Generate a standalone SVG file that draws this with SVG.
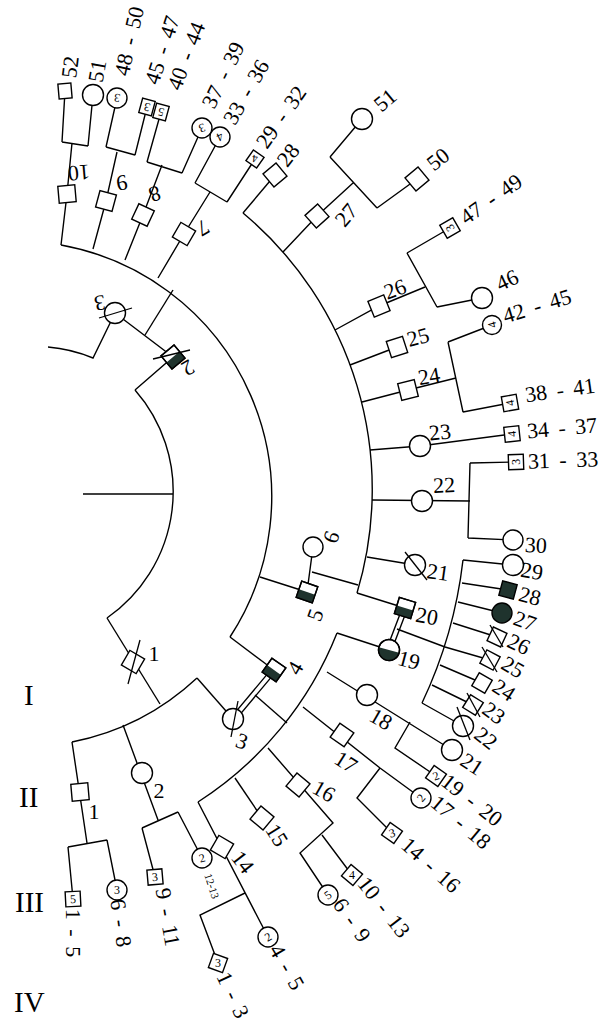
<svg xmlns="http://www.w3.org/2000/svg" xmlns:xlink="http://www.w3.org/1999/xlink" width="612" height="1023" viewBox="0 0 612 1023">
<style>
.c{fill:none;stroke:#000;stroke-width:1.4}
.n{fill:#fff;stroke:#000;stroke-width:1.4}
.d{fill:#1f332d;stroke:none}
.k{fill:#1f332d;stroke:#000;stroke-width:1.4}
.sl{stroke:#000;stroke-width:1.3}
.t{font-family:"Liberation Serif","Times New Roman",serif;font-size:22px;fill:#000;text-anchor:middle;dominant-baseline:central;word-spacing:4px}
.s{font-size:12px}
.x{font-size:11px}
.g{font-family:"Liberation Serif","Times New Roman",serif;font-size:29px;fill:#000}
</style>
<defs>
<rect id="sq" x="-8.5" y="-8.5" width="17" height="17"/>
<rect id="sqs" x="-7.5" y="-7.5" width="15" height="15"/>
<circle id="ci" r="10.5"/>
<circle id="cis" r="10"/>
</defs>
<rect width="612" height="1023" fill="#fff"/>
<g id="connectors" class="c">
<path d="M83,494H173"/>
<path d="M135,390A154,154 0 0 1 107,618"/>
<path d="M135,390L173,357L115,313"/>
<path d="M145,335L173,290"/>
<path d="M48,347A150,150 0 0 1 93,358L115,313"/>
<path d="M61,245A256,256 0 0 1 230,637"/>
<path d="M61,245L67,194L72,143M62,142L88,146M62,142L65,91M88,146L93,95"/>
<path d="M93,249L106,201L117,152M106,147L135,155M106,147L117,98M135,155L147,107"/>
<path d="M125,260L143,215L162,165M147,162L182,173M147,162L161,112M182,173L202,128"/>
<path d="M158,278L184,234L210,192M195,183L227,202M195,183L220,137M227,202L255,159"/>
<path d="M230,637L274,670"/>
<path d="M260,577L307,592L313,547M312,572L358,585"/>
<path d="M243,213A360,360 0 0 1 357,593"/>
<path d="M243,213L275,175"/>
<path d="M283,252L317,216L353,183M330,157L377,208M330,157L362,119M377,208L417,179"/>
<path d="M335,330L379,306L425,287M407,253L437,307M407,253L450,228M437,307L482,298"/>
<path d="M350,365L397,347"/>
<path d="M362,402L408,390L456,378M448,342L463,412M448,342L492,325M463,412L510,403"/>
<path d="M370,450L420,446L512,434"/>
<path d="M372,500L470,501M470,463L468,538M470,463L516,462M468,538L513,540"/>
<path d="M367,557L415,565"/>
<path d="M357,593L405,608"/>
<path d="M391.3,650.9L407.3,608.9M386.7,649.1L402.7,607.1"/>
<path d="M397,629L445,647"/>
<path d="M337,633L389,650"/>
<path d="M463,560A455,455 0 0 1 422,703"/>
<path d="M463,560L513,565M462,583L508,590M458,602L502,613M453,623L497,637M445,647L490,660M440,665L482,683M432,685L473,705M422,703L463,726"/>
<path d="M197,678A256,256 0 0 1 72,742"/>
<path d="M107,618L160,704"/>
<path d="M197,678L233,719"/>
<path d="M234.9,720.6L275.9,671.6M231.1,717.4L272.1,668.4"/>
<path d="M255,695L287,723"/>
<path d="M337,633A357,357 0 0 1 198,802"/>
<path d="M327,672L452,750M410,722L395,748L436,776"/>
<path d="M303,707L380,768L421,798M380,768L357,798L392,833"/>
<path d="M268,748L333,823L300,853L328,895M322,835L352,875"/>
<path d="M235,778L262,818"/>
<path d="M198,802L268,937M245,893L200,915L218,963"/>
<path d="M72,742L87,843M68,847L107,840M68,847L73,899M107,840L117,890"/>
<path d="M123,725L158,820M142,828L178,812M142,828L155,877M178,812L202,858"/>
</g>
<g id="generations">
<text class="g" x="24" y="705">I</text>
<text class="g" x="19" y="807">II</text>
<text class="g" x="15" y="912">III</text>
<text class="g" x="14" y="1012">IV</text>
</g>
<g id="root-couple">
<g id="n-I-2"><g transform="translate(173,357) rotate(-40)"><use href="#sq" class="n"/><rect class="d" x="-8.5" y="0" width="17" height="8.5"/><use href="#sq" class="c"/></g><line class="sl" x1="153" y1="359" x2="190" y2="350"/><text class="t" transform="translate(188,368) rotate(150)">2</text></g>
<g id="n-I-3u"><use href="#ci" class="n" transform="translate(115,313)"/><line class="sl" x1="99" y1="318" x2="132" y2="308"/><text class="t" transform="translate(100,303) rotate(170)">3</text></g>
<g id="n-I-1"><use href="#sq" class="n" transform="translate(133,662) rotate(30)"/><line class="sl" x1="140" y1="640" x2="128" y2="684"/><text class="t" x="154" y="653">1</text></g>
<g id="n-I-3"><use href="#ci" class="n" transform="translate(233,719)"/><line class="sl" x1="238" y1="701" x2="231" y2="737"/><text class="t" transform="translate(242,741) rotate(20)">3</text></g>
<g id="n-I-4"><g transform="translate(274,670) rotate(35)"><use href="#sq" class="n"/><rect class="d" x="-8.5" y="0" width="17" height="8.5"/><use href="#sq" class="c"/></g><text class="t" transform="translate(295,668) rotate(-60)">4</text></g>
<g id="n-I-5"><g transform="translate(307,592) rotate(19)"><use href="#sq" class="n"/><rect class="d" x="-8.5" y="0" width="17" height="8.5"/><use href="#sq" class="c"/></g><text class="t" transform="translate(315,615) rotate(-70)">5</text></g>
<g id="n-I-6"><use href="#cis" class="n" transform="translate(313,547)"/><text class="t" transform="translate(331,537) rotate(-70)">6</text></g>
</g>
<g id="upper-left">
<g id="n-10"><use href="#sq" class="n" transform="translate(67,194) rotate(-5)"/><text class="t" transform="translate(79,173) rotate(175)">10</text></g>
<g id="n-9"><use href="#sq" class="n" transform="translate(106,201) rotate(15)"/><text class="t" transform="translate(122,183) rotate(170)">9</text></g>
<g id="n-8"><use href="#sq" class="n" transform="translate(143,215) rotate(25)"/><text class="t" transform="translate(155,194) rotate(160)">8</text></g>
<g id="n-7"><use href="#sq" class="n" transform="translate(184,234) rotate(30)"/><text class="t" transform="translate(203,228) rotate(150)">7</text></g>
<g id="n-52"><rect class="n" x="-6.5" y="-7.5" width="13" height="15" transform="translate(65,91) rotate(-5)"/><text class="t" transform="translate(70,67) rotate(-83)">52</text></g>
<g id="n-51a"><use href="#ci" class="n" transform="translate(93,95)"/><text class="t" transform="translate(97,71) rotate(-80)">51</text></g>
<g id="n-48-50"><use href="#cis" class="n" transform="translate(117,98)"/><text class="t s" transform="translate(117,98) rotate(190)">3</text><text class="t" transform="translate(129,41) rotate(-77)">48 - 50</text></g>
<g id="n-45-47"><g transform="translate(147,107) rotate(15)"><rect class="n" x="-6.5" y="-7.5" width="13" height="15"/><text class="t s" transform="rotate(180)">3</text></g><text class="t" transform="translate(162,50) rotate(-72)">45 - 47</text></g>
<g id="n-40-44"><g transform="translate(161,112) rotate(15)"><rect class="n" x="-6.5" y="-7.5" width="13" height="15"/><text class="t s" transform="rotate(180)">5</text></g><text class="t" transform="translate(186,56) rotate(-69)">40 - 44</text></g>
<g id="n-37-39"><use href="#cis" class="n" transform="translate(202,128)"/><text class="t s" transform="translate(202,128) rotate(160)">3</text><text class="t" transform="translate(223,75) rotate(-64)">37 - 39</text></g>
<g id="n-33-36"><use href="#cis" class="n" transform="translate(220,137)"/><text class="t s" transform="translate(220,137) rotate(155)">4</text><text class="t" transform="translate(246,92) rotate(-60)">33 - 36</text></g>
<g id="n-29-32"><g transform="translate(255,159) rotate(35)"><rect class="n" x="-6.5" y="-6.5" width="13" height="13"/><text class="t x" transform="rotate(150)">4</text></g><text class="t" transform="translate(281,117) rotate(-55)">29 - 32</text></g>
</g>
<g id="upper-right">
<g id="n-28"><use href="#sq" class="n" transform="translate(275,175) rotate(-40)"/><text class="t" transform="translate(288,155) rotate(-52)">28</text></g>
<g id="n-27"><use href="#sq" class="n" transform="translate(317,216) rotate(-42)"/><text class="t" transform="translate(346,215) rotate(-50)">27</text></g>
<g id="n-51b"><use href="#ci" class="n" transform="translate(362,119)"/><text class="t" transform="translate(385,100) rotate(-40)">51</text></g>
<g id="n-50"><use href="#sq" class="n" transform="translate(417,179) rotate(-40)"/><text class="t" transform="translate(438,159) rotate(-38)">50</text></g>
<g id="n-26"><use href="#sq" class="n" transform="translate(379,306) rotate(-22)"/><text class="t" transform="translate(395,289) rotate(-20)">26</text></g>
<g id="n-47-49"><g transform="translate(450,228) rotate(-30)"><use href="#sqs" class="n"/><text class="t s" transform="rotate(-90)">3</text></g><text class="t" transform="translate(491,199) rotate(-35)">47 - 49</text></g>
<g id="n-46"><use href="#ci" class="n" transform="translate(482,298)"/><text class="t" transform="translate(507,280) rotate(-25)">46</text></g>
<g id="n-25"><use href="#sq" class="n" transform="translate(397,347) rotate(-18)"/><text class="t" transform="translate(418,337) rotate(-15)">25</text></g>
<g id="n-24"><use href="#sq" class="n" transform="translate(408,390) rotate(-14)"/><text class="t" transform="translate(429,376) rotate(-10)">24</text></g>
<g id="n-42-45"><circle class="n" r="9.5" transform="translate(492,325)"/><text class="t s" transform="translate(492,325) rotate(-105)">4</text><text class="t" transform="translate(537,306) rotate(-17)">42 - 45</text></g>
<g id="n-38-41"><g transform="translate(510,403) rotate(-10)"><use href="#sqs" class="n"/><text class="t s" transform="rotate(-90)">4</text></g><text class="t" transform="translate(560,390) rotate(-8)">38 - 41</text></g>
<g id="n-23"><use href="#ci" class="n" transform="translate(420,446)"/><text class="t" transform="translate(440,432) rotate(-6)">23</text></g>
<g id="n-34-37"><g transform="translate(512,434) rotate(-6)"><use href="#sqs" class="n"/><text class="t s" transform="rotate(-90)">4</text></g><text class="t" transform="translate(562,428) rotate(-5)">34 - 37</text></g>
<g id="n-22"><use href="#ci" class="n" transform="translate(422,501)"/><text class="t" transform="translate(444,485) rotate(-3)">22</text></g>
<g id="n-31-33"><g transform="translate(516,462) rotate(-2)"><use href="#sqs" class="n"/><text class="t s" transform="rotate(-90)">3</text></g><text class="t" transform="translate(563,460) rotate(-2)">31 - 33</text></g>
<g id="n-30"><use href="#cis" class="n" transform="translate(513,540)"/><text class="t" transform="translate(536,545) rotate(3)">30</text></g>
<g id="n-21"><use href="#ci" class="n" transform="translate(415,565)"/><line class="sl" x1="405" y1="552" x2="427" y2="580"/><text class="t" transform="translate(438,572) rotate(8)">21</text></g>
<g id="n-20"><g transform="translate(405,608) rotate(17)"><use href="#sq" class="n"/><rect class="d" x="-8.5" y="0" width="17" height="8.5"/><use href="#sq" class="c"/></g><text class="t" transform="translate(427,616) rotate(10)">20</text></g>
<g id="n-19"><g transform="translate(389,650) rotate(15)"><use href="#ci" class="n"/><path class="d" d="M-10.5,0A10.5,10.5 0 0 0 10.5,0Z"/><use href="#ci" class="c"/></g><text class="t" transform="translate(409,660) rotate(15)">19</text></g>
</g>
<g id="right-sibship">
<g id="n-29r"><use href="#ci" class="n" transform="translate(513,565)"/><text class="t" transform="translate(532,571) rotate(10)">29</text></g>
<g id="n-28r"><use href="#sqs" class="k" transform="translate(508,590) rotate(15)"/><text class="t" transform="translate(530,596) rotate(15)">28</text></g>
<g id="n-27r"><use href="#cis" class="k" transform="translate(502,613)"/><text class="t" transform="translate(525,621) rotate(20)">27</text></g>
<g id="n-26r"><use href="#sqs" class="n" transform="translate(497,637) rotate(25)"/><line class="sl" x1="490" y1="625" x2="503" y2="647"/><text class="t" transform="translate(519,644) rotate(25)">26</text></g>
<g id="n-25r"><use href="#sqs" class="n" transform="translate(490,660) rotate(28)"/><line class="sl" x1="482" y1="647" x2="497" y2="672"/><text class="t" transform="translate(513,667) rotate(30)">25</text></g>
<g id="n-24r"><use href="#sqs" class="n" transform="translate(482,683) rotate(30)"/><text class="t" transform="translate(504,690) rotate(33)">24</text></g>
<g id="n-23r"><use href="#sqs" class="n" transform="translate(473,705) rotate(32)"/><line class="sl" x1="467" y1="693" x2="480" y2="717"/><text class="t" transform="translate(494,713) rotate(36)">23</text></g>
<g id="n-22r"><use href="#ci" class="n" transform="translate(463,726)"/><line class="sl" x1="457" y1="707" x2="470" y2="740"/><text class="t" transform="translate(486,738) rotate(38)">22</text></g>
</g>
<g id="lower-right">
<g id="n-18"><use href="#ci" class="n" transform="translate(367,695)"/><text class="t" transform="translate(381,719) rotate(30)">18</text></g>
<g id="n-21l"><use href="#ci" class="n" transform="translate(452,750)"/><text class="t" transform="translate(472,764) rotate(33)">21</text></g>
<g id="n-19-20"><g transform="translate(436,776) rotate(35)"><use href="#sqs" class="n"/><text class="t s" transform="rotate(-55)">2</text></g><text class="t" transform="translate(472,800) rotate(38)">19 - 20</text></g>
<g id="n-17"><use href="#sq" class="n" transform="translate(342,735) rotate(35)"/><text class="t" transform="translate(346,762) rotate(32)">17</text></g>
<g id="n-17-18"><use href="#cis" class="n" transform="translate(421,798)"/><text class="t s" transform="translate(421,798) rotate(-50)">2</text><text class="t" transform="translate(461,822) rotate(40)">17 - 18</text></g>
<g id="n-14-16"><g transform="translate(392,833) rotate(35)"><use href="#sqs" class="n"/><text class="t s" transform="rotate(-50)">3</text></g><text class="t" transform="translate(431,865) rotate(42)">14 - 16</text></g>
<g id="n-16"><use href="#sq" class="n" transform="translate(298,785) rotate(40)"/><text class="t" transform="translate(324,791) rotate(30)">16</text></g>
<g id="n-10-13"><g transform="translate(352,875) rotate(40)"><use href="#sqs" class="n"/><text class="t s" transform="rotate(-40)">4</text></g><text class="t" transform="translate(384,907) rotate(52)">10 - 13</text></g>
<g id="n-6-9"><use href="#cis" class="n" transform="translate(328,895)"/><text class="t s" transform="translate(328,895) rotate(-35)">5</text><text class="t" transform="translate(352,920) rotate(55)">6 - 9</text></g>
<g id="n-15"><use href="#sq" class="n" transform="translate(262,818) rotate(40)"/><text class="t" transform="translate(277,835) rotate(58)">15</text></g>
<g id="n-14"><use href="#sq" class="n" transform="translate(222,847) rotate(30)"/><text class="t" transform="translate(243,862) rotate(52)">14</text></g>
<g id="n-4-5"><use href="#cis" class="n" transform="translate(268,937)"/><text class="t s" transform="translate(268,937) rotate(-30)">2</text><text class="t" transform="translate(287,967) rotate(60)">4 - 5</text></g>
<g id="n-1-3"><g transform="translate(218,963) rotate(20)"><use href="#sqs" class="n"/><text class="t s" transform="rotate(-20)">3</text></g><text class="t" transform="translate(233,995) rotate(65)">1 - 3</text></g>
</g>
<g id="lower-left">
<g id="n-II-1"><use href="#sq" class="n" transform="translate(80,792) rotate(-5)"/><text class="t" x="94" y="811">1</text></g>
<g id="n-II-2"><use href="#ci" class="n" transform="translate(142,773)"/><text class="t" x="159" y="790">2</text></g>
<g id="n-1-5"><g transform="translate(73,899) rotate(-3)"><use href="#sqs" class="n"/><text class="t s">5</text></g><text class="t" transform="translate(73,933) rotate(90)">1 - 5</text></g>
<g id="n-6-8"><use href="#cis" class="n" transform="translate(117,890)"/><text class="t s" x="117" y="890">3</text><text class="t" transform="translate(121,923) rotate(82)">6 - 8</text></g>
<g id="n-9-11"><g transform="translate(155,877) rotate(-5)"><use href="#sqs" class="n"/><text class="t s">3</text></g><text class="t" transform="translate(168,917) rotate(80)">9 - 11</text></g>
<g id="n-12-13"><use href="#cis" class="n" transform="translate(202,858)"/><text class="t s" transform="translate(202,858) rotate(-15)">2</text><text class="t x" transform="translate(212,886) rotate(72)">12-13</text></g>
</g>
</svg>
